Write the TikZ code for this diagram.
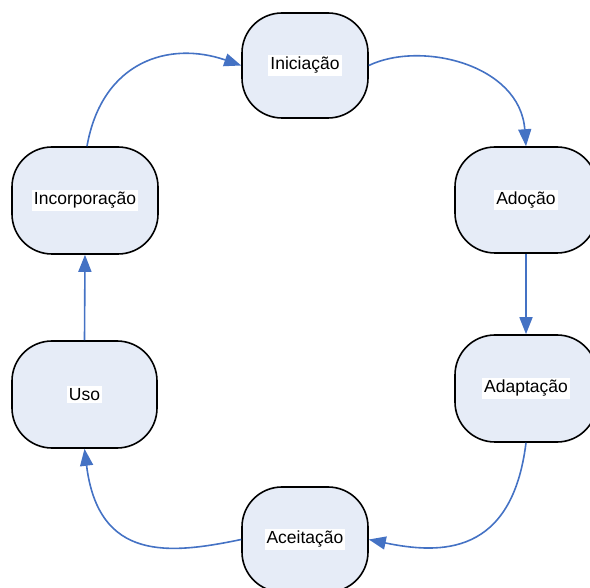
\documentclass[tikz,border=0pt]{standalone}
\usepackage{fontspec}
\setmainfont{Liberation Sans}
\usetikzlibrary{arrows.meta}
\definecolor{stagefill}{RGB}{230,236,247}
\definecolor{flowblue}{RGB}{68,114,196}
\newcommand{\stagelabel}[1]{{\setlength{\fboxsep}{2pt}\colorbox{white}{#1}}}
\begin{document}
\begin{tikzpicture}[x=1pt,y=-1pt,
  stage/.style={draw=black,line width=1.6pt,fill=stagefill,rounded corners=40pt,
    inner sep=0pt,font=\fontsize{17.5}{20}\selectfont},
  flow/.style={draw=flowblue,line width=1.6pt,-{Triangle[length=17pt,width=13pt]}}]
  \useasboundingbox (0,0) rectangle (590,588);
  \clip (0,0) rectangle (590,588);

  % stages of the cycle
  \node[stage,minimum width=126pt,minimum height=105pt] (ini)  at (305,65.5)  {\stagelabel{Iniciação}};
  \node[stage,minimum width=142pt,minimum height=106pt] (ado)  at (526,200)   {\stagelabel{Adoção}};
  \node[stage,minimum width=142pt,minimum height=107pt] (adap) at (526,388.5) {\stagelabel{Adaptação}};
  \node[stage,minimum width=126pt,minimum height=105pt] (acei) at (305,539.5) {\stagelabel{Aceitação}};
  \node[stage,minimum width=145pt,minimum height=107pt] (uso)  at (84.5,394.5){\stagelabel{Uso}};
  \node[stage,minimum width=146pt,minimum height=107pt] (inc)  at (85,200.5)  {\stagelabel{Incorporação}};

  % transitions
  \draw[flow] ([xshift=2pt]inc.north) .. controls +(15,-85) and +(-72,-25) .. (ini.west);
  \draw[flow] (ini.east) .. controls +(52,-25) and +(-6,-82) .. (ado.north);
  \draw[flow] (ado.south) -- (adap.north);
  \draw[flow] (adap.south) .. controls +(-14,113) and +(72,15) .. (acei.east);
  \draw[flow] (acei.west) .. controls +(-72,15) and +(14,113) .. (uso.south);
  \draw[flow] (uso.north) -- (inc.south);
\end{tikzpicture}
\end{document}
